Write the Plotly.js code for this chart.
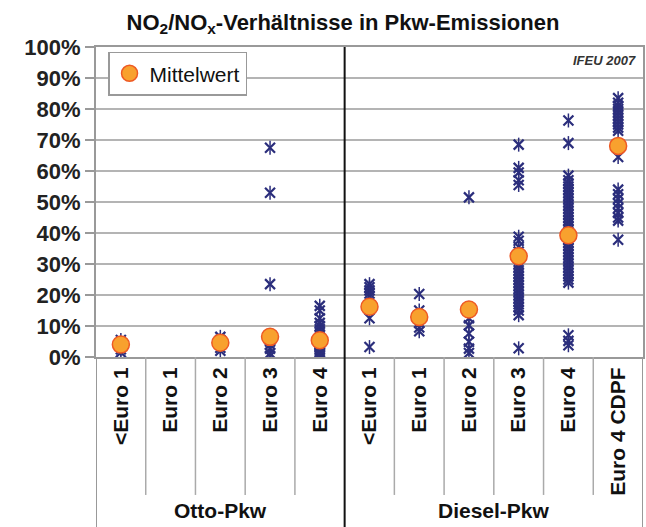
<!DOCTYPE html>
<html>
<head>
<meta charset="utf-8">
<script src="https://cdn.plot.ly/plotly-3.0.1.min.js"></script>
<style>html,body{margin:0;padding:0;background:#fff;}#chart{width:646px;height:527px;}</style>
</head>
<body>
<div id="chart"></div>
<script>
// Categories (columns)
const categories = ['<Euro 1','Euro 1','Euro 2','Euro 3','Euro 4','<Euro 1','Euro 1','Euro 2','Euro 3','Euro 4','Euro 4 CDPF'];
const groups = ['Otto-Pkw','Diesel-Pkw'];
const groupCenters = [2, 7.5];

// Individual measurements (NO2/NOx ratio in %)
const otto_ltEuro1 = [1.5, 2.5, 3.5, 5.5];
const otto_euro1 = [];
const otto_euro2 = [6.5, 5.5, 4.0, 3.0, 2.0];
const otto_euro3 = [67.5, 53.0, 23.5, 5.0, 4.0, 2.7, 1.2, 0.3];
const otto_euro4 = [16.5, 15.0, 12.5, 11.0, 10.0, 9.0, 8.0, 7.0, 6.0, 5.0, 4.5, 4.0, 3.5, 3.0, 2.5, 2.0, 1.5, 1.0, 0.5];
const diesel_ltEuro1 = [23.5, 22.5, 21.5, 20.5, 19.5, 12.5, 3.2];
const diesel_euro1 = [20.3, 15.0, 13.5, 11.0, 9.5, 8.3];
const diesel_euro2 = [51.5, 12.5, 10.2, 7.6, 4.9, 2.7, 1.3];
const diesel_euro3 = [68.5, 61.0, 59.5, 57.0, 55.5, 38.8, 37.5, 35.5, 34.0, 30.0, 29.0, 28.0, 27.0, 26.0, 25.0, 24.0, 23.0, 22.0, 21.0, 20.0, 19.0, 18.0, 17.0, 16.0, 15.0, 13.5, 2.8];
const diesel_euro4 = [76.3, 69.0, 58.5, 57.0, 56.0, 55.0, 54.0, 53.0, 52.0, 51.0, 50.0, 49.0, 48.0, 47.0, 46.0, 45.0, 44.0, 43.0, 42.0, 41.0, 38.0, 37.0, 36.0, 35.0, 34.0, 33.0, 32.0, 31.0, 30.0, 29.0, 28.0, 27.0, 26.0, 25.0, 24.0, 7.0, 5.2, 3.8];
const diesel_euro4cdpf = [83.5, 82.0, 81.0, 80.0, 79.0, 78.0, 77.0, 76.0, 75.0, 74.0, 73.0, 64.5, 54.0, 52.5, 51.0, 49.5, 48.0, 46.5, 45.0, 44.0, 37.8];

// Mean values (Mittelwert) per column
const means = [4.0, null, 4.6, 6.5, 5.4, 16.2, 12.9, 15.3, 32.5, 39.3, 68.1];

const series = [otto_ltEuro1, otto_euro1, otto_euro2, otto_euro3, otto_euro4,
  diesel_ltEuro1, diesel_euro1, diesel_euro2, diesel_euro3, diesel_euro4, diesel_euro4cdpf];

const px = [], py = [];
series.forEach((arr, i) => arr.forEach(v => { px.push(i); py.push(v); }));
const idx = categories.map((c, i) => i);

const navy = '#2b2e7c';
const traces = [
  {x: px, y: py, type: 'scatter', mode: 'markers', showlegend: false, hoverinfo: 'y',
   marker: {symbol: 'x-thin-open', size: 10, line: {color: navy, width: 2.2}, color: navy}},
  {x: px, y: py, type: 'scatter', mode: 'markers', showlegend: false, hoverinfo: 'skip',
   marker: {symbol: 'line-ns-open', size: 10, line: {color: navy, width: 1.5}, color: navy}},
  {x: idx, y: means, type: 'scatter', mode: 'markers', name: 'Mittelwert',
   marker: {symbol: 'circle', size: 17, color: '#f8a12e', line: {color: '#ee5a24', width: 1.5}}}
];

const shapes = [];
[0.5, 1.5, 2.5, 3.5, 5.5, 6.5, 7.5, 8.5, 9.5].forEach(x => shapes.push({
  type: 'line', xref: 'x', yref: 'paper', x0: x, x1: x, y0: 0, y1: -0.445,
  line: {color: '#aaaaaa', width: 1.5}}));
shapes.push({type: 'line', xref: 'x', yref: 'paper', x0: -0.5, x1: -0.5, y0: 0, y1: -0.56, line: {color: '#999999', width: 2}});
shapes.push({type: 'line', xref: 'x', yref: 'paper', x0: 10.5, x1: 10.5, y0: 0, y1: -0.56, line: {color: '#999999', width: 2}});
shapes.push({type: 'line', xref: 'x', yref: 'paper', x0: 4.5, x1: 4.5, y0: 1, y1: -0.56, line: {color: '#111111', width: 2}});

const fam = 'Liberation Sans, Arial, sans-serif';
const annotations = groups.map((g, i) => ({
  text: g, x: groupCenters[i], xref: 'x', y: -0.494, yref: 'paper', yanchor: 'middle', xanchor: 'center',
  showarrow: false, font: {family: fam, size: 21, weight: 'bold', color: '#111'}}));
annotations.push({text: '<b><i>IFEU 2007</i></b>', x: 0.99, xref: 'paper', xanchor: 'right', y: 0.955, yref: 'paper', yanchor: 'middle',
  showarrow: false, font: {family: fam, size: 13, color: '#333'}});

const layout = {
  width: 646, height: 527,
  margin: {l: 96, r: 3, t: 47, b: 170, pad: 0},
  paper_bgcolor: '#fff', plot_bgcolor: '#fff',
  title: {text: 'NO<sub>2</sub>/NO<sub>x</sub>-Verhältnisse in Pkw-Emissionen', x: 343/646, xref: 'container', xanchor: 'center',
    y: 1 - 22/527, yref: 'container', yanchor: 'middle', font: {family: fam, size: 22, weight: 'bold', color: '#111'}},
  xaxis: {range: [-0.5, 10.5], tickvals: idx, ticktext: categories, tickangle: -90, ticks: '', showgrid: false, zeroline: false,
    showline: true, linecolor: '#999', linewidth: 2, mirror: true, fixedrange: true,
    tickfont: {family: fam, size: 21, weight: 'bold', color: '#111'}},
  yaxis: {range: [0, 100], dtick: 10, ticksuffix: '%', ticks: 'outside', ticklen: 9, tickcolor: '#999', tickwidth: 1.5,
    showgrid: true, gridcolor: '#b4b4b4', gridwidth: 1.5, zeroline: false, showline: true, linecolor: '#999', linewidth: 2, mirror: true,
    tickfont: {family: fam, size: 22, weight: 'bold', color: '#222'}, fixedrange: true},
  legend: {x: 0.022, y: 0.985, xanchor: 'left', yanchor: 'top', bgcolor: '#fff', bordercolor: '#999', borderwidth: 1.5,
    font: {family: fam, size: 21, color: '#111'}},
  shapes: shapes, annotations: annotations, showlegend: true
};

Plotly.newPlot('chart', traces, layout, {displayModeBar: false, staticPlot: true});
</script>
</body>
</html>
